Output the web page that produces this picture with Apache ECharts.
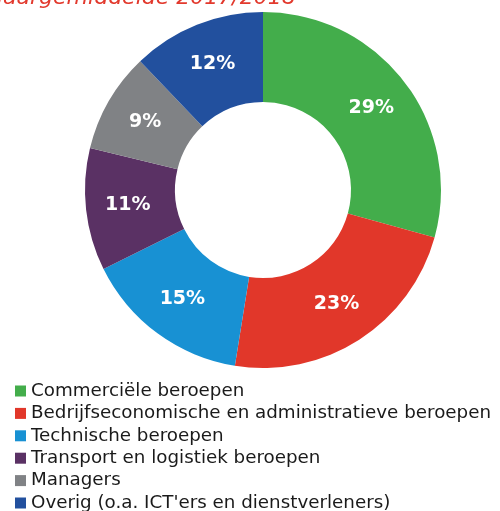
<!DOCTYPE html>
<html>
<head>
<meta charset="utf-8">
<script src="https://cdn.jsdelivr.net/npm/echarts@6/dist/echarts.min.js"></script>
<style>
	html, body { margin: 0; padding: 0; background: #fff; }
	#chart { width: 500px; height: 511px; }
</style>
</head>
<body>
<div id="chart"></div>
<script>
// beroepsgroepen en aandeel (%)
var categories = [
	'Commerciële beroepen',
	'Bedrijfseconomische en administratieve beroepen',
	'Technische beroepen',
	'Transport en logistiek beroepen',
	'Managers',
	"Overig (o.a. ICT'ers en dienstverleners)"
];
var values = [29, 23, 15, 11, 9, 12];
var colors = ['#43ad4b', '#e1372a', '#1891d3', '#5a3164', '#808285', '#22509e'];
var titleText = 'jaargemiddelde 2017/2018';

var pieData = [];
for (var i = 0; i < categories.length; i++) {
	pieData.push({ name: categories[i], value: values[i] });
}

var chart = echarts.init(document.getElementById('chart'));
chart.setOption({
	animation: false,
	color: colors,
	title: {
		text: titleText,
		left: -3,
		top: -13,
		padding: 0,
		textStyle: {
			fontFamily: 'DejaVu Sans',
			fontStyle: 'italic',
			fontWeight: 'normal',
			fontSize: 22,
			color: '#e2392d'
		}
	},
	legend: {
		orient: 'vertical',
		left: 15,
		top: 382,
		height: 160,
		padding: 0,
		itemWidth: 11,
		itemHeight: 11,
		itemGap: 4.4,
		icon: 'rect',
		textStyle: {
			fontFamily: 'DejaVu Sans',
			fontSize: 18.3,
			lineHeight: 18,
			color: '#1a1a1a'
		},
		data: categories
	},
	series: [{
		type: 'pie',
		center: [263, 190],
		radius: [88, 178],
		startAngle: 90,
		clockwise: true,
		label: {
			show: true,
			position: 'inside',
			formatter: '{c}%',
			color: '#fff',
			fontFamily: 'DejaVu Sans',
			fontWeight: 'bold',
			fontSize: 19
		},
		labelLine: { show: false },
		emphasis: { disabled: true },
		data: pieData
	}]
});
</script>
</body>
</html>
